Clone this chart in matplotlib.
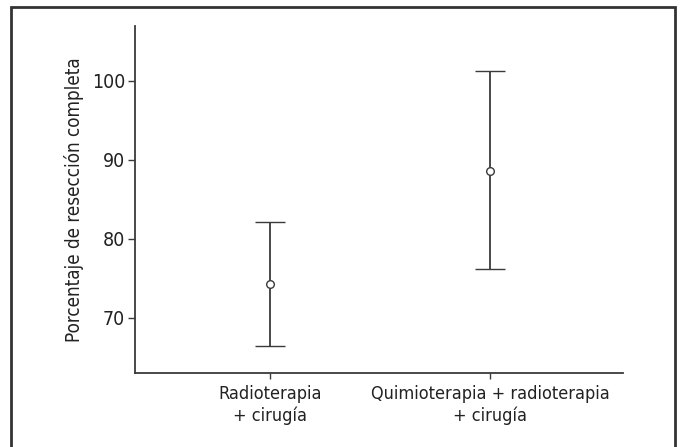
import matplotlib
matplotlib.use("Agg")
import matplotlib.pyplot as plt
from matplotlib.font_manager import fontManager
from matplotlib.patches import Rectangle

# Data
groups = ["Radioterapia\n+ cirugía", "Quimioterapia + radioterapia\n+ cirugía"]
means = [74.3, 88.6]
lower = [66.4, 76.1]
upper = [82.1, 101.2]
yticks = [70, 80, 90, 100]

names = {f.name for f in fontManager.ttflist}
family = ["Liberation Sans Narrow", "DejaVu Sans"] if "Liberation Sans Narrow" in names else ["DejaVu Sans"]
plt.rcParams["font.family"] = family
if "Liberation Sans Narrow" not in names:
    plt.rcParams["font.stretch"] = "condensed"

col = "#3a3a3a"
fig = plt.figure(figsize=(6.85, 4.47), dpi=100)
ax = fig.add_axes([0.197, 0.166, 0.9095 - 0.197, 0.9418 - 0.166])

x = [1, 2]
err = [[m - l for m, l in zip(means, lower)], [u - m for m, u in zip(means, upper)]]
ax.errorbar(x, means, yerr=err, fmt="o", mfc="white", mec=col, ms=5.5, mew=1,
            ecolor=col, elinewidth=1.3, capsize=10.8, capthick=1.3)

ax.set_xlim(0.386, 2.605)
ax.set_ylim(63.0, 106.9)
ax.set_xticks(x)
ax.set_xticklabels(groups, fontsize=13, color="#222222", linespacing=1.2)
ax.set_yticks(yticks)
ax.tick_params(axis="y", labelsize=14, labelcolor="#222222", length=5, width=1, color=col, pad=2)
ax.tick_params(axis="x", length=4, width=1, color=col, pad=5)
ax.set_ylabel("Porcentaje de resección completa", fontsize=13.5, color="#222222", labelpad=6)

for s in ["top", "right"]:
    ax.spines[s].set_visible(False)
for s in ["left", "bottom"]:
    ax.spines[s].set_color(col)
    ax.spines[s].set_linewidth(1.3)

# outer frame
fig.patches.append(Rectangle((11 / 685, -0.01), (675 - 11) / 685, 1 - 7 / 447 + 0.01,
                             transform=fig.transFigure, fill=False, ec="#333333", lw=2))

fig.savefig("out.png", dpi=100)
